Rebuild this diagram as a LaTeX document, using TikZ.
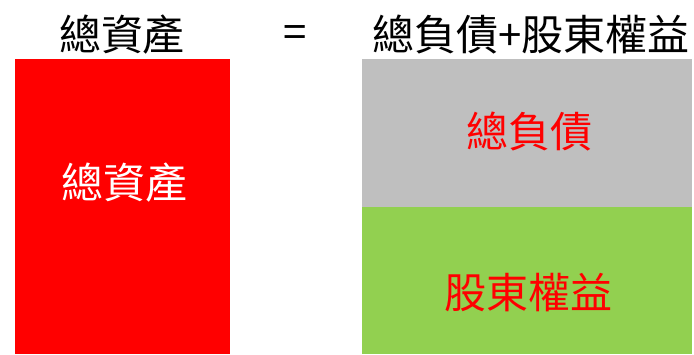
\documentclass[tikz,border=0pt]{standalone}
\usepackage{fontspec}
\newfontfamily\cjk{Noto Sans CJK TC}
\definecolor{myred}{HTML}{FF0000}
\definecolor{mygray}{HTML}{BFBFBF}
\definecolor{mygreen}{HTML}{92D050}
\tikzset{
  title/.style={font=\cjk\fontsize{42}{44}\selectfont, text=black, inner sep=0pt},
  inlabel/.style={font=\cjk\fontsize{42}{44}\selectfont, inner sep=0pt},
}
\begin{document}
\begin{tikzpicture}[x=1pt,y=-1pt]
\useasboundingbox (0,0) rectangle (694,354);
\fill[white] (0,0) rectangle (694,354);
\fill[myred] (15,59) rectangle (230,354);
\fill[mygray] (362,59) rectangle (692,207);
\fill[mygreen] (362,207) rectangle (692,354);
\node[title] (t1) at (122,35) {總資產};
\node[title] (eq) at (295,37) {=};
\node[title] (t2) at (531,35) {總負債+股東權益};
\node[inlabel, text=white] (l1) at (124,183) {總資產};
\node[inlabel, text=myred] (l2) at (529,132) {總負債};
\node[inlabel, text=myred] (l3) at (528,293) {股東權益};
\end{tikzpicture}
\end{document}
